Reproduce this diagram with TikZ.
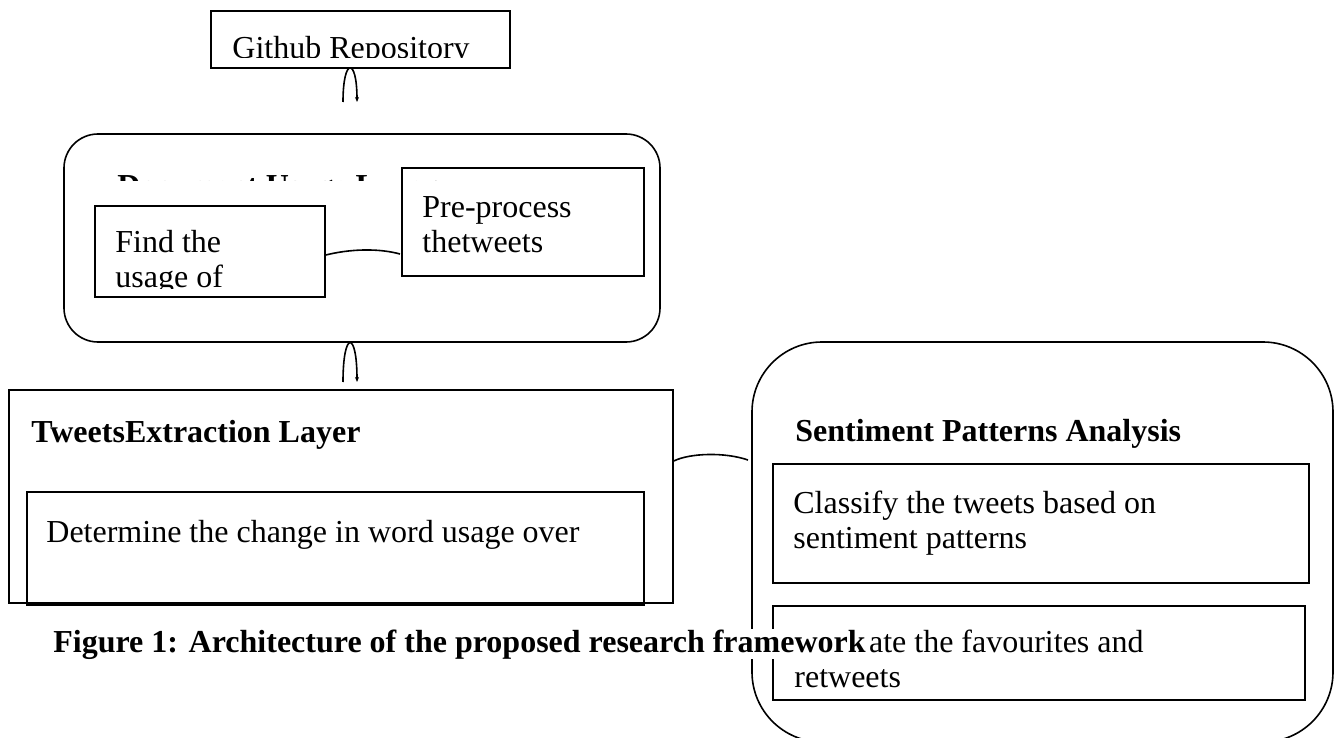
\documentclass[tikz,border=0pt]{standalone}
\usepackage{fontspec}
\setmainfont{Liberation Serif}
\usetikzlibrary{fit,arrows.meta}

\begin{document}
\begin{tikzpicture}[x=0.5pt, y=-0.5pt,
                frame/.style = {draw, line width=0.8pt, inner sep=0pt},
                layer/.style = {frame, rounded corners=17pt},
                txt/.style = {inner sep=0pt, anchor=base west, align=left, font=\fontsize{16}{17.5}\selectfont},
                ttl/.style = {txt, font=\bfseries\fontsize{16}{17.5}\selectfont},
                link/.style = {line width=0.8pt},
                uplink/.style = {link, -{Stealth[length=2.5pt, width=2pt]}}
                ]
                \useasboundingbox (0,0) rectangle (1335,738);
                \node[frame, fit={(211,11) (510,68)}] (github) {};
                \begin{scope}
                    \clip (211,11) rectangle (510,58);
                    \node[txt] (githubtext) at (232,59) {Github Repository};
                \end{scope}
                \coordinate (ga) at (343,102);
                \coordinate (gb) at (357,102);
                \draw[uplink] (ga) .. controls (343,57) and (357,57) .. (gb);

                \node[layer, fit={(64,134) (660,342)}] (usage) {};
                \begin{scope}
                    \clip (64,134) rectangle (660,181);
                    \node[ttl] (usagetitle) at (117,197) {Document Usage Layer};
                \end{scope}
                \node[frame, fit={(95,206) (325,297)}] (find) {};
                \begin{scope}
                    \clip (95,206) rectangle (325,288);
                    \node[txt] (findtext) at (115,287) {Find the\\usage of};
                \end{scope}
                \node[frame, fit={(402,168) (644,276)}] (preproc) {};
                \node[txt] (preproctext) at (422,253) {Pre-process\\thetweets};
                \coordinate (pa) at (400,254);
                \draw[link] (find.east |- 0,255) .. controls (350,249) and (378,248) .. (pa);

                \coordinate (ua) at (343,382);
                \coordinate (ub) at (357,382);
                \draw[uplink] (ua) .. controls (343,330) and (357,330) .. (ub);

                \node[frame, fit={(9,390) (673,603)}] (tweets) {};
                \node[ttl] (tweetstitle) at (31,442) {TweetsExtraction Layer};
                \node[frame, fit={(27,492) (644,605)}] (change) {};
                \node[txt] (changetext) at (46,542) {Determine the change in word usage over};

                \node[frame, rounded corners=35pt, fit={(752,342) (1333,742)}] (sentiment) {};
                \node[ttl] (sentimenttitle) at (795,441) {Sentiment Patterns Analysis};
                \node[frame, fit={(773,464) (1309,583)}] (classify) {};
                \node[txt] (classifytext) at (793,548) {Classify the tweets based on\\sentiment patterns};
                \node[frame, fit={(773,606) (1305,700)}] (evaluate) {};
                \node[txt] (evaluatetext) at (794,687) {Evaluate the favourites and\\retweets};
                \coordinate (sa) at (748,460);
                \draw[link] (tweets.east |- 0,461) .. controls (690,453) and (725,452) .. (sa);

                \node[ttl, anchor=base east, fill=white, inner xsep=2pt] (caption) at (870,652) {Figure 1: Architecture of the proposed research framework};
            \end{tikzpicture}
\end{document}
